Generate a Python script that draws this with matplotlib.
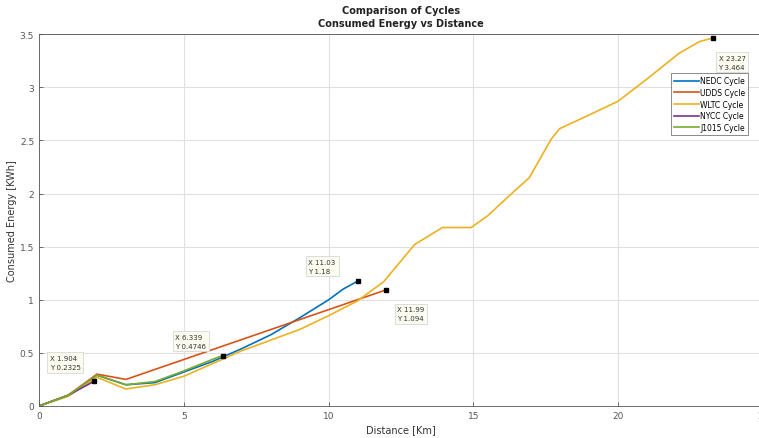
import matplotlib.pyplot as plt
import numpy as np

# data
nedc_x = [0, 1, 2, 3, 4, 5, 6, 7, 8, 9, 10, 10.5, 11.03]
nedc_y = [0, 0.1, 0.29, 0.2, 0.22, 0.32, 0.42, 0.54, 0.67, 0.83, 1.0, 1.1, 1.18]

udds_x = [0, 1, 2, 3, 11.99]
udds_y = [0, 0.1, 0.3, 0.25, 1.094]

wltc_x = [0, 1, 2, 3, 4, 5, 6, 7, 8, 9, 10, 11, 11.9, 12.97, 13.93, 14.92, 15.49,
          16.24, 16.93, 17.68, 17.97, 19, 20, 21, 22.1, 22.8, 23.27]
wltc_y = [0, 0.09, 0.27, 0.16, 0.2, 0.28, 0.4, 0.52, 0.62, 0.72, 0.85, 0.99, 1.17, 1.52, 1.68,
          1.68, 1.79, 1.98, 2.15, 2.51, 2.61, 2.74, 2.87, 3.08, 3.32, 3.43, 3.464]

nycc_x = [0, 1, 1.9]
nycc_y = [0, 0.1, 0.2325]

j1015_x = [0, 1, 2, 3, 4, 5, 6, 6.339]
j1015_y = [0, 0.1, 0.29, 0.2, 0.23, 0.33, 0.44, 0.4746]

labels = ['NEDC Cycle', 'UDDS Cycle', 'WLTC Cycle', 'NYCC Cycle', 'J1015 Cycle']
colors = ['#0072BD', '#D95319', '#EDB120', '#7E2F8E', '#77AC30']

# datatips: (x, y, text)
tips = [(1.9, 0.2325, 'X 1.904\nY 0.2325'),
        (6.339, 0.4746, 'X 6.339\nY 0.4746'),
        (11.03, 1.18, 'X 11.03\nY 1.18'),
        (11.99, 1.094, 'X 11.99\nY 1.094'),
        (23.27, 3.464, 'X 23.27\nY 3.464')]
tip_offsets = [(-32, 8), (-34, 5), (-36, 5), (8, -12), (4, -12)]

fig = plt.figure(figsize=(7.59, 4.39), dpi=100)
ax = fig.add_axes([0.0514, 0.0729, 0.954, 0.847])

series = [(nedc_x, nedc_y), (udds_x, udds_y), (wltc_x, wltc_y), (nycc_x, nycc_y), (j1015_x, j1015_y)]
for (xs, ys), lab, c in zip(series, labels, colors):
    ax.plot(xs, ys, color=c, lw=1.2, label=lab)

for (tx, ty, t), (ox, oy) in zip(tips, tip_offsets):
    ax.plot(tx, ty, 's', color='black', ms=3.5)
    ax.annotate(t, (tx, ty), xytext=(ox, oy), textcoords='offset points',
                fontsize=5, color='#333333', va='top' if oy < 0 else 'bottom', linespacing=1.6,
                bbox=dict(boxstyle='square,pad=0.4', fc='#fbfbf0', ec='#d8d8d8', lw=0.6))

ax.set_xlim(0, 25)
ax.set_ylim(0, 3.5)
ax.set_xticks([0, 5, 10, 15, 20, 25])
ax.set_yticks([0, 0.5, 1, 1.5, 2, 2.5, 3, 3.5])
ax.set_yticklabels(['0', '0.5', '1', '1.5', '2', '2.5', '3', '3.5'])
ax.grid(True, color='#e0e0e0', lw=0.8)
ax.set_axisbelow(True)
ax.tick_params(direction='in', labelsize=6.5, colors='#555555', length=3, width=0.6)
for s in ax.spines.values():
    s.set_color('#555555')
    s.set_linewidth(0.6)

ax.set_xlabel('Distance [Km]', fontsize=7, color='#333333', labelpad=3)
ax.set_ylabel('Consumed Energy [KWh]', fontsize=7, color='#333333')
ax.yaxis.set_label_coords(-0.031, 0.5)
ax.set_title('Comparison of Cycles\nConsumed Energy vs Distance', fontsize=7, fontweight='bold',
             color='#222222', pad=6, linespacing=1.3)

leg = ax.legend(loc='upper right', bbox_to_anchor=(0.985, 0.905), fontsize=5.5, frameon=True,
                fancybox=False, edgecolor='#555555', handlelength=3.2, borderpad=0.4,
                labelspacing=0.35, handletextpad=0.2)
leg.get_frame().set_linewidth(0.6)

fig.savefig('out.png', dpi=100)
